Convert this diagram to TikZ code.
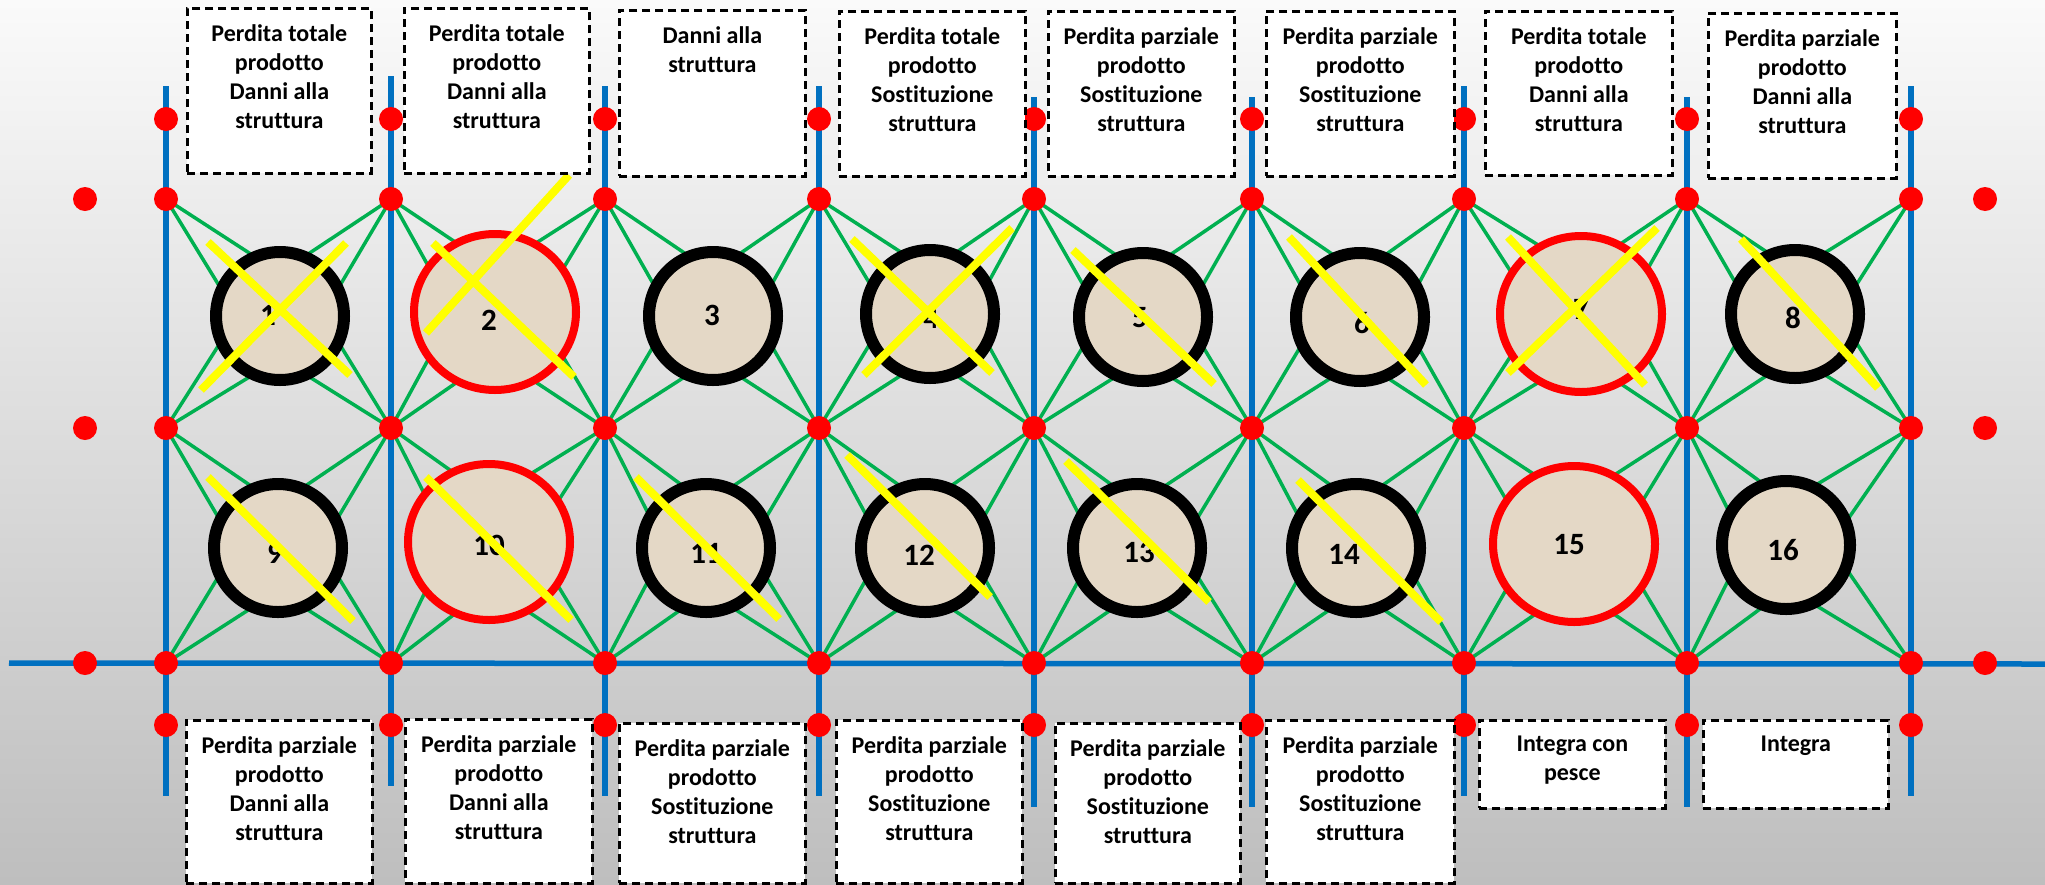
\documentclass[tikz,border=0pt]{standalone}
\usepackage{fontspec}
\setmainfont{Carlito}[Ligatures={NoCommon}]
\usetikzlibrary{calc,shapes.geometric}
\pgfdeclarelayer{bg}
\pgfdeclarelayer{wires}
\pgfsetlayers{bg,wires,main}
\definecolor{pblue}{HTML}{0070C0}
\definecolor{pgreen}{HTML}{00B050}
\definecolor{pred}{HTML}{FF0000}
\definecolor{pyellow}{HTML}{FFFF00}
\definecolor{linen}{RGB}{228,216,198}
\definecolor{bgtop}{RGB}{250,250,250}
\definecolor{bgmid}{RGB}{224,224,224}
\definecolor{bgbot}{RGB}{190,190,190}
\begin{document}
\begin{tikzpicture}[x=1pt,y=-1pt,
  dot/.style={circle,fill=pred,minimum size=24pt,inner sep=0pt},
  blueline/.style={pblue,line width=6pt},
  wire/.style={pgreen,line width=3.5pt},
  netblack/.style={circle,draw=black,line width=12pt,fill=linen,minimum size=128pt,inner sep=0pt},
  netred/.style={ellipse,draw=pred,line width=8pt,fill=linen,minimum width=162pt,minimum height=156pt,inner sep=0pt},
  numlabel/.style={font=\fontsize{31}{31}\selectfont\bfseries,inner sep=0pt},
  cross/.style={pyellow,line width=8pt},
  infobox/.style={draw=black,fill=white,line width=2.7pt,dash pattern=on 8pt off 5pt,inner sep=0pt,anchor=north west},
  infotext/.style={font=\fontsize{24}{29}\selectfont\bfseries,align=center,anchor=north,inner sep=0pt}
]
\useasboundingbox (0,0) rectangle (2045,884);
\begin{pgfonlayer}{bg}
\shade[top color=bgtop,middle color=bgmid,bottom color=bgbot] (0,0) rectangle (2045,884);
\end{pgfonlayer}

% red dots on the grid
\foreach \i/\x in {1/166,2/391,3/605,4/819,5/1034,6/1252,7/1464,8/1687,9/1911} {
  \foreach \r/\y in {A/119,B/199,C/428,D/663,E/725} {
    \node[dot] (d-\i-\r) at (\x,\y) {};
  }
}
\foreach \r/\y in {B/199,C/428,D/663} {
  \node[dot] (o-L-\r) at (85,\y) {};
  \node[dot] (o-R-\r) at (1985,\y) {};
}

% blue posts
\foreach \i/\x/\t/\b in {1/166/86/796,2/391/76/786,3/605/86/796,4/819/86/796,5/1034/97/807,6/1252/97/807,7/1464/86/796,8/1687/97/807,9/1911/86/796} {
  \coordinate (top-\i) at (\x,\t);
  \coordinate (bot-\i) at (\x,\b);
  \begin{pgfonlayer}{wires}
  \draw[blueline] (top-\i) -- (bot-\i);
  \end{pgfonlayer}
}
\coordinate (hl) at (9,663);
\coordinate (hr) at (2045,664);
\begin{pgfonlayer}{wires}
\draw[blueline,line width=5.5pt] (hl) -- (hr);
\end{pgfonlayer}

% nets
\foreach \n/\x/\y/\s in {1/280/316/netblack,2/495/312/netred,3/713/316/netblack,4/930/314/netblack,5/1143/317/netblack,6/1360/317/netblack,7/1581/314/netred,8/1795/314/netblack,9/278/548/netblack,10/489/542/netred,11/706/548/netblack,12/925/548/netblack,13/1137/548/netblack,14/1356/548/netblack,15/1574/544/netred,16/1786/545/netblack} {
  \node[\s] (c\n) at (\x,\y) {};
}
\foreach \n/\x/\y in {1/268/315,2/489/320,3/712/315,4/931/318,5/1140/318,6/1362/323,7/1581/309,8/1793/318,9/275/553,10/489/545,11/706/553,12/919/555,13/1139/552,14/1344/554,15/1569/545,16/1783/550} {
  \node[numlabel] (n\n) at (\x,\y) {\n};
}

% green ropes
\begin{pgfonlayer}{wires}
\foreach \n/\l/\rr/\u/\w in {1/1/2/B/C,2/2/3/B/C,3/3/4/B/C,4/4/5/B/C,5/5/6/B/C,6/6/7/B/C,7/7/8/B/C,8/8/9/B/C,9/1/2/C/D,10/2/3/C/D,11/3/4/C/D,12/4/5/C/D,13/5/6/C/D,14/6/7/C/D,15/7/8/C/D,16/8/9/C/D} {
  \foreach \k in {d-\l-\u,d-\rr-\u,d-\l-\w,d-\rr-\w} {
    \draw[wire] (\k.center) -- ($(c\n.center)!37pt!90:(\k.center)$);
    \draw[wire] (\k.center) -- ($(c\n.center)!37pt!-90:(\k.center)$);
  }
}
\end{pgfonlayer}

% yellow marks
\foreach \a/\b/\c/\d in {208/242/350/375,346/243/201/390,569/175/426/333,433/243/574/377,852/239/992/373,1012/228/864/375,1073/250/1214/384,1289/237/1426/385,1508/237/1645/385,1657/228/1508/373,1741/239/1878/388,208/477/353/621,426/477/571/620,636/477/779/619,847/455/990/597,1066/461/1209/602,1298/480/1441/622} {
  \draw[cross] (\a,\b) -- (\c,\d);
}

% labels
\foreach \n/\xa/\ya/\xb/\yb/\txt in {
  1/186/7/370/172/{Perdita totale\\prodotto\\Danni alla\\struttura},
  2/403/7/588/172/{Perdita totale\\prodotto\\Danni alla\\struttura},
  3/618/9/804/175/{Danni alla\\struttura},
  4/838/10/1024/175/{Perdita totale\\prodotto\\Sostituzione\\struttura},
  5/1047/10/1233/175/{Perdita parziale\\prodotto\\Sostituzione\\struttura},
  6/1265/10/1453/175/{Perdita parziale\\prodotto\\Sostituzione\\struttura},
  7/1484/10/1671/174/{Perdita totale\\prodotto\\Danni alla\\struttura},
  8/1707/12/1895/177/{Perdita parziale\\prodotto\\Danni alla\\struttura},
  9/185/719/371/882/{Perdita parziale\\prodotto\\Danni alla\\struttura},
  10/404/718/591/882/{Perdita parziale\\prodotto\\Danni alla\\struttura},
  11/618/722/804/882/{Perdita parziale\\prodotto\\Sostituzione\\struttura},
  12/835/719/1021/882/{Perdita parziale\\prodotto\\Sostituzione\\struttura},
  13/1054/722/1239/882/{Perdita parziale\\prodotto\\Sostituzione\\struttura},
  14/1265/719/1453/882/{Perdita parziale\\prodotto\\Sostituzione\\struttura},
  15/1478/719/1664/807/{Integra con\\pesce},
  16/1702/719/1887/807/{Integra}} {
  \node[infobox,minimum width={(\xb-\xa)*1pt},minimum height={(\yb-\ya)*1pt}] (b\n) at (\xa,\ya) {};
  \node[infotext] (t\n) at ([yshift=-17pt]b\n.north) {\txt};
}
\end{tikzpicture}
\end{document}
